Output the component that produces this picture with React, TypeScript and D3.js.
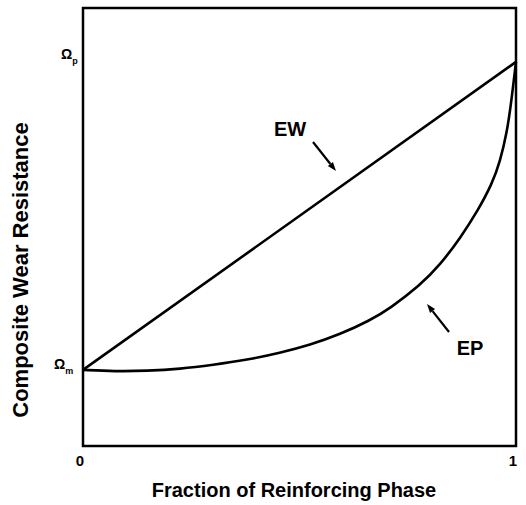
import React from "react";
import * as d3 from "d3";

// Data (fraction of reinforcing phase vs. normalized wear resistance, Ωm = 1, Ωp = 2)
const ewFraction = [0, 1];
const ewValues = [1, 2];
const epFraction = [0, 0.0739, 0.1478, 0.224, 0.3002, 0.3788, 0.455, 0.5242, 0.5935, 0.6628, 0.709, 0.7783, 0.8245, 0.8707, 0.9122, 0.9446, 0.963, 0.9792, 0.9885, 1.0];
const epValues = [1.0, 0.9951, 0.9968, 1.0032, 1.0162, 1.0325, 1.0552, 1.0812, 1.1153, 1.1607, 1.1997, 1.2744, 1.3409, 1.4269, 1.5179, 1.6039, 1.6753, 1.7727, 1.8636, 2.0];
const xTickValues = [0, 1];
const xTickLabels = ["0", "1"];
const yLevelValues = [1, 2];
const yLevelSubs = ["m", "p"];

const W = 526;
const H = 505;
const left = 83;
const right = 516;
const top = 8;
const bottom = 446;

export default function App() {
  const x = d3.scaleLinear().domain([0, 1]).range([left, right]);
  const y = d3.scaleLinear().domain([0.753, 2.175]).range([bottom, top]);

  const line = d3
    .line<number>()
    .x((_, i) => x(ewFraction[i]))
    .y((d) => y(d));
  const curve = d3
    .line<number>()
    .x((_, i) => x(epFraction[i]))
    .y((d) => y(d))
    .curve(d3.curveBasis);

  const font = "'Liberation Sans', Arial, Helvetica, sans-serif";

  const arrow = (x1: number, y1: number, x2: number, y2: number) => {
    const ang = Math.atan2(y2 - y1, x2 - x1);
    const len = 9;
    const wid = 3.2;
    const bx = x2 - len * Math.cos(ang);
    const by = y2 - len * Math.sin(ang);
    const px = -Math.sin(ang) * wid;
    const py = Math.cos(ang) * wid;
    return (
      <g>
        <line x1={x1} y1={y1} x2={bx} y2={by} stroke="#000" strokeWidth={2.2} />
        <path d={`M${x2},${y2}L${bx + px},${by + py}L${bx - px},${by - py}Z`} fill="#000" />
      </g>
    );
  };

  return (
    <svg width={W} height={H} style={{ position: "absolute", left: 0, top: 0, background: "#fff" }}>
      <rect x={0} y={0} width={W} height={H} fill="#fff" />
      <rect x={left} y={top} width={right - left} height={bottom - top} fill="none" stroke="#000" strokeWidth={2.5} />
      <path d={line(ewValues) || ""} fill="none" stroke="#000" strokeWidth={2.6} />
      <path d={curve(epValues) || ""} fill="none" stroke="#000" strokeWidth={2.6} strokeLinejoin="round" />

      {xTickValues.map((v, i) => (
        <text key={i} x={x(v) - 3} y={bottom + 20} textAnchor="middle" fontFamily={font} fontWeight="bold" fontSize={15}>
          {xTickLabels[i]}
        </text>
      ))}

      {yLevelValues.map((v, i) => (
        <text key={i} x={i === 0 ? 54 : 61} y={y(v) + (i === 0 ? -1 : -3)} fontFamily={font} fontWeight="bold" fontSize={14}>
          Ω
          <tspan fontSize={9} dy={5}>{yLevelSubs[i]}</tspan>
        </text>
      ))}

      <text x={290} y={136} textAnchor="middle" fontFamily={font} fontWeight="bold" fontSize={20}>EW</text>
      {arrow(313, 142, 336, 171)}
      <text x={470} y={355} textAnchor="middle" fontFamily={font} fontWeight="bold" fontSize={20}>EP</text>
      {arrow(449, 332, 427, 304)}

      <text x={294} y={497} textAnchor="middle" fontFamily={font} fontSize={20} fontWeight="bold" fill="#000">
        Fraction of Reinforcing Phase
      </text>
      <text transform={`translate(28,270) rotate(-90)`} textAnchor="middle" fontFamily={font} fontSize={22} fontWeight="bold">
        Composite Wear Resistance
      </text>
    </svg>
  );
}
